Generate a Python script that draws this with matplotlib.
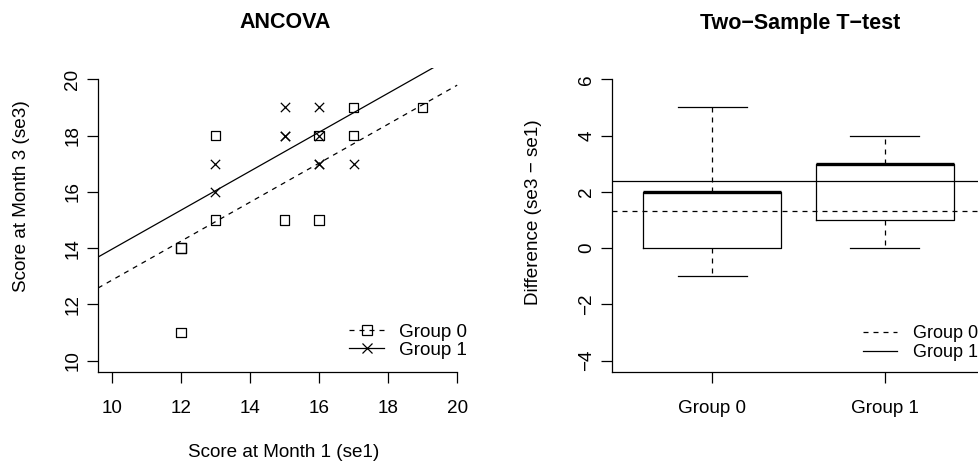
import numpy as np
import matplotlib
matplotlib.use('Agg')
import matplotlib.pyplot as plt
from matplotlib.lines import Line2D

plt.rcParams['font.family'] = ['Liberation Sans', 'DejaVu Sans']

# ANCOVA data (se1 vs se3)
g0_x = [12, 12, 12, 13, 13, 15, 16, 16, 17, 17, 19]
g0_y = [14, 14, 11, 18, 15, 15, 15, 18, 19, 18, 19]
g1_x = [13, 13, 15, 15, 15, 16, 16, 16, 16, 17]
g1_y = [17, 16, 19, 18, 18, 19, 18, 17, 17, 17]
# fitted parallel lines (common slope, group intercepts)
fit_slope = 0.693
fit_intercepts = [5.93, 7.03]
fit_xrange = [9.6, 20.0]

# t-test box stats (difference se3 - se1)
groups = ['Group 0', 'Group 1']
whislo = [-1, 0]
q1 = [0, 1]
med = [2, 3]
q3 = [2, 3]
whishi = [5, 4]
means = [1.33, 2.40]

W, H = 979, 465
fig = plt.figure(figsize=(W / 100, H / 100), dpi=100)
FS = 13.6
LW = 0.9
DASH = (0, (4, 4))


def style_axis(ax, ylim_top_tick, xlim_right):
    for s in ['top', 'right']:
        ax.spines[s].set_visible(False)
    ax.spines['left'].set_bounds(ax.get_ylim()[0], ylim_top_tick)
    ax.spines['bottom'].set_bounds(ax.get_xlim()[0], xlim_right)
    for s in ['left', 'bottom']:
        ax.spines[s].set_linewidth(LW)
    ax.tick_params(direction='out', length=8, width=LW, labelsize=FS)
    ax.tick_params(axis='x', pad=12)
    ax.tick_params(axis='y', pad=4)
    for lab in ax.get_yticklabels():
        lab.set_rotation(90)
        lab.set_va('center')


# ---- left: ANCOVA ----
ax1 = fig.add_axes([98 / W, 93 / H, 373 / W, 304 / H])
ax1.set_xlim(9.6, 20.4)
ax1.set_ylim(9.6, 20.4)
ax1.scatter(g0_x, g0_y, marker='s', s=45, facecolors='none', edgecolors='black', linewidths=LW)
ax1.scatter(g1_x, g1_y, marker='x', s=45, color='black', linewidths=LW)
xs = np.array(fit_xrange)
ax1.plot(xs, fit_intercepts[0] + fit_slope * xs, color='black', lw=LW, linestyle=DASH)
ax1.plot(xs, fit_intercepts[1] + fit_slope * xs, color='black', lw=LW)
ax1.set_xticks([10, 12, 14, 16, 18, 20])
ax1.set_yticks([10, 12, 14, 16, 18, 20])
style_axis(ax1, 20, 20)
h0 = Line2D([], [], color='black', lw=LW, linestyle=DASH, marker='s', markerfacecolor='none', markersize=6.5, markeredgewidth=LW)
h1 = Line2D([], [], color='black', lw=LW, marker='x', markersize=6.5, markeredgewidth=LW)
ax1.legend([h0, h1], groups, loc='upper left', bbox_to_anchor=(340 / W, 1 - 314 / H),
           bbox_transform=fig.transFigure, frameon=False, fontsize=FS,
           handlelength=1.85, handletextpad=0.8, labelspacing=0.05, borderpad=0)

# ---- right: two-sample t-test ----
ax2 = fig.add_axes([612 / W, 93 / H, 373 / W, 304 / H])
stats = []
for i in range(len(groups)):
    stats.append({'label': groups[i], 'whislo': whislo[i], 'q1': q1[i], 'med': med[i],
                  'q3': q3[i], 'whishi': whishi[i]})
ax2.bxp(stats, positions=[1, 2], widths=0.8, capwidths=0.4, showfliers=False,
        boxprops=dict(color='black', lw=LW),
        whiskerprops=dict(color='black', lw=LW, linestyle=DASH),
        capprops=dict(color='black', lw=LW),
        medianprops=dict(color='black', lw=2.4, solid_capstyle='butt'))
ax2.axhline(means[0], color='black', lw=LW, linestyle=DASH)
ax2.axhline(means[1], color='black', lw=LW)
ax2.set_xlim(0.42, 2.58)
ax2.set_ylim(-4.4, 6.4)
ax2.set_xticks([1, 2])
ax2.set_xticklabels(groups)
ax2.set_yticks([-4, -2, 0, 2, 4, 6])
style_axis(ax2, 6, 2.58)
l0 = Line2D([], [], color='black', lw=LW, linestyle=DASH)
l1 = Line2D([], [], color='black', lw=LW)
ax2.legend([l0, l1], groups, loc='upper left', bbox_to_anchor=(854 / W, 1 - 316 / H),
           bbox_transform=fig.transFigure, frameon=False, fontsize=13,
           handlelength=1.9, handletextpad=0.85, labelspacing=0.1, borderpad=0)

# titles and axis labels
fig.text(285 / W, 1 - 23 / H, 'ANCOVA', ha='center', va='center', fontsize=15.5, fontweight='bold')
fig.text(800 / W, 1 - 23 / H, 'Two\u2212Sample T\u2212test', ha='center', va='center', fontsize=15.5, fontweight='bold')
fig.text(284 / W, 1 - 452 / H, 'Score at Month 1 (se1)', ha='center', va='center', fontsize=FS)
fig.text(22 / W, 1 - 196 / H, 'Score at Month 3 (se3)', ha='center', va='center', fontsize=FS, rotation=90)
fig.text(534 / W, 1 - 212 / H, 'Difference (se3 \u2212 se1)', ha='center', va='center', fontsize=FS, rotation=90)

fig.savefig('out.png', dpi=100)
